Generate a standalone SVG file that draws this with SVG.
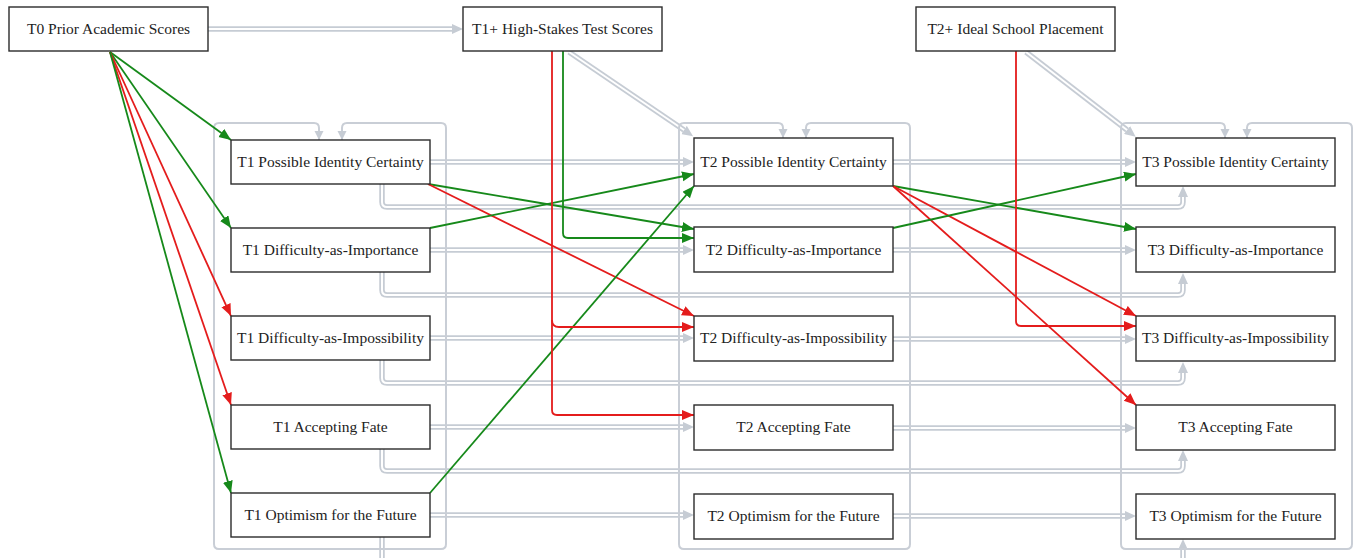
<svg xmlns="http://www.w3.org/2000/svg" width="1356" height="558" viewBox="0 0 1356 558">
<style>
.box{fill:#fff;stroke:#2b2b2b;stroke-width:1.4}
.lbl{font-family:"Liberation Serif","DejaVu Serif",serif;font-size:15.5px;fill:#222;text-anchor:middle}
.dg{fill:none;stroke:#c6ccd4;stroke-width:5.5}
.dw{fill:none;stroke:#fff;stroke-width:2}
.grp{fill:none;stroke:#c9ced6;stroke-width:2}
.g{fill:none;stroke:#16891a;stroke-width:1.8}
.r{fill:none;stroke:#e41c1c;stroke-width:1.8}
</style>
<defs>
<marker id="ag" markerUnits="userSpaceOnUse" markerWidth="12" markerHeight="10" refX="0" refY="5" orient="auto"><path d="M0,0 L11,5 L0,10 z" fill="#c6ccd4"/></marker>
<marker id="as" markerUnits="userSpaceOnUse" markerWidth="10" markerHeight="10" refX="9" refY="4.5" orient="auto"><path d="M0,0 L9,4.5 L0,9 z" fill="#c6ccd4"/></marker>
<marker id="agr" markerUnits="userSpaceOnUse" markerWidth="13" markerHeight="11" refX="12" refY="5" orient="auto"><path d="M0,0 L12,5 L0,10 z" fill="#16891a"/></marker>
<marker id="are" markerUnits="userSpaceOnUse" markerWidth="13" markerHeight="11" refX="12" refY="5" orient="auto"><path d="M0,0 L12,5 L0,10 z" fill="#e41c1c"/></marker>
</defs>

<g id="connectors">
<g id="gray-double">
<path class="dg" marker-end="url(#ag)" d="M208,29 H452"/>
<path class="dg" marker-end="url(#ag)" d="M569,52 L684,130"/>
<path class="dg" marker-end="url(#ag)" d="M1026,52 L1127,130"/>
<path class="dg" marker-end="url(#ag)" d="M430,162 H683"/>
<path class="dg" marker-end="url(#ag)" d="M430,250 H683"/>
<path class="dg" marker-end="url(#ag)" d="M430,338 H683"/>
<path class="dg" marker-end="url(#ag)" d="M430,427 H683"/>
<path class="dg" marker-end="url(#ag)" d="M430,515 H683"/>
<path class="dg" marker-end="url(#ag)" d="M893,162 H1125"/>
<path class="dg" marker-end="url(#ag)" d="M893,250 H1125"/>
<path class="dg" marker-end="url(#ag)" d="M893,339 H1125"/>
<path class="dg" marker-end="url(#ag)" d="M893,428 H1125"/>
<path class="dg" marker-end="url(#ag)" d="M893,516 H1125"/>
<path class="dg" marker-end="url(#ag)" d="M382,184 V202 Q382,207 387,207 H1178 Q1183,207 1183,202 V197"/>
<path class="dg" marker-end="url(#ag)" d="M382,272 V290 Q382,295 387,295 H1178 Q1183,295 1183,290 V284"/>
<path class="dg" marker-end="url(#ag)" d="M382,360 V378 Q382,383 387,383 H1178 Q1183,383 1183,378 V373"/>
<path class="dg" marker-end="url(#ag)" d="M382,449 V466 Q382,471 387,471 H1178 Q1183,471 1183,466 V461"/>
<path class="dg" marker-end="url(#ag)" d="M382,537 V600 H1183 V550"/>
<path class="dw" d="M208,29 H452"/>
<path class="dw" d="M569,52 L684,130"/>
<path class="dw" d="M1026,52 L1127,130"/>
<path class="dw" d="M430,162 H683"/>
<path class="dw" d="M430,250 H683"/>
<path class="dw" d="M430,338 H683"/>
<path class="dw" d="M430,427 H683"/>
<path class="dw" d="M430,515 H683"/>
<path class="dw" d="M893,162 H1125"/>
<path class="dw" d="M893,250 H1125"/>
<path class="dw" d="M893,339 H1125"/>
<path class="dw" d="M893,428 H1125"/>
<path class="dw" d="M893,516 H1125"/>
<path class="dw" d="M382,184 V202 Q382,207 387,207 H1178 Q1183,207 1183,202 V197"/>
<path class="dw" d="M382,272 V290 Q382,295 387,295 H1178 Q1183,295 1183,290 V284"/>
<path class="dw" d="M382,360 V378 Q382,383 387,383 H1178 Q1183,383 1183,378 V373"/>
<path class="dw" d="M382,449 V466 Q382,471 387,471 H1178 Q1183,471 1183,466 V461"/>
<path class="dw" d="M382,537 V600 H1183 V550"/>
</g>
<g id="gray-loops">
<path class="grp" marker-end="url(#as)" d="M330,549 H219 Q214,549 214,544 V128 Q214,123 219,123 H314 Q319,123 319,128 V140"/>
<path class="grp" marker-end="url(#as)" d="M330,549 H441 Q446,549 446,544 V128 Q446,123 441,123 H347 Q342,123 342,128 V140"/>
<path class="grp" marker-end="url(#as)" d="M794,549 H684 Q679,549 679,544 V128 Q679,123 684,123 H778 Q783,123 783,128 V138"/>
<path class="grp" marker-end="url(#as)" d="M794,549 H905 Q910,549 910,544 V128 Q910,123 905,123 H811 Q806,123 806,128 V138"/>
<path class="grp" marker-end="url(#as)" d="M1236,549 H1126 Q1121,549 1121,544 V128 Q1121,123 1126,123 H1220 Q1225,123 1225,128 V138"/>
<path class="grp" marker-end="url(#as)" d="M1236,549 H1347 Q1352,549 1352,544 V128 Q1352,123 1347,123 H1252 Q1247,123 1247,128 V138"/>
</g>
<g id="colored">
<path class="g" marker-end="url(#agr)" d="M110,52 L231,140"/>
<path class="g" marker-end="url(#agr)" d="M110,52 L231,228"/>
<path class="r" marker-end="url(#are)" d="M110,52 L231,316"/>
<path class="r" marker-end="url(#are)" d="M110,52 L231,405"/>
<path class="g" marker-end="url(#agr)" d="M110,52 L231,493"/>
<path class="g" marker-end="url(#agr)" d="M428,184 L694,229"/>
<path class="r" marker-end="url(#are)" d="M428,184 L694,316"/>
<path class="g" marker-end="url(#agr)" d="M430,228 L694,174"/>
<path class="g" marker-end="url(#agr)" d="M430,493 L694,186"/>
<path class="g" marker-end="url(#agr)" d="M893,186 L1136,229"/>
<path class="r" marker-end="url(#are)" d="M893,186 L1136,316"/>
<path class="r" marker-end="url(#are)" d="M893,186 L1136,405"/>
<path class="g" marker-end="url(#agr)" d="M893,228 L1136,174"/>
<path class="g" marker-end="url(#agr)" d="M563,51 V233 Q563,238 568,238 H694"/>
<path class="r" marker-end="url(#are)" d="M552,51 V410 Q552,415 557,415 H694"/>
<path class="r" marker-end="url(#are)" d="M552,320 Q552,327 559,327 H694"/>
<path class="r" marker-end="url(#are)" d="M1016,51 V321 Q1016,326 1021,326 H1136"/>
</g>
</g>

<g id="t0"><rect class="box" x="9" y="7" width="199" height="44"/><text class="lbl" x="108.5" y="34">T0 Prior Academic Scores</text></g>
<g id="t1plus"><rect class="box" x="463" y="7" width="199" height="44"/><text class="lbl" x="562.5" y="34">T1+ High-Stakes Test Scores</text></g>
<g id="t2plus"><rect class="box" x="916" y="7" width="199" height="44"/><text class="lbl" x="1015.5" y="34">T2+ Ideal School Placement</text></g>

<g id="t1pic"><rect class="box" x="231" y="140" width="199" height="44"/><text class="lbl" x="330.5" y="167">T1 Possible Identity Certainty</text></g>
<g id="t1dai"><rect class="box" x="231" y="228" width="199" height="44"/><text class="lbl" x="330.5" y="255">T1 Difficulty-as-Importance</text></g>
<g id="t1dimp"><rect class="box" x="231" y="316" width="199" height="44"/><text class="lbl" x="330.5" y="343">T1 Difficulty-as-Impossibility</text></g>
<g id="t1af"><rect class="box" x="231" y="405" width="199" height="44"/><text class="lbl" x="330.5" y="432">T1 Accepting Fate</text></g>
<g id="t1of"><rect class="box" x="231" y="493" width="199" height="44"/><text class="lbl" x="330.5" y="520">T1 Optimism for the Future</text></g>

<g id="t2pic"><rect class="box" x="694" y="138" width="199" height="48"/><text class="lbl" x="793.5" y="167">T2 Possible Identity Certainty</text></g>
<g id="t2dai"><rect class="box" x="694" y="227" width="199" height="45"/><text class="lbl" x="793.5" y="255">T2 Difficulty-as-Importance</text></g>
<g id="t2dimp"><rect class="box" x="694" y="316" width="199" height="45"/><text class="lbl" x="793.5" y="343">T2 Difficulty-as-Impossibility</text></g>
<g id="t2af"><rect class="box" x="694" y="405" width="199" height="45"/><text class="lbl" x="793.5" y="432">T2 Accepting Fate</text></g>
<g id="t2of"><rect class="box" x="694" y="494" width="199" height="45"/><text class="lbl" x="793.5" y="521">T2 Optimism for the Future</text></g>

<g id="t3pic"><rect class="box" x="1136" y="138" width="199" height="48"/><text class="lbl" x="1235.5" y="167">T3 Possible Identity Certainty</text></g>
<g id="t3dai"><rect class="box" x="1136" y="227" width="199" height="45"/><text class="lbl" x="1235.5" y="255">T3 Difficulty-as-Importance</text></g>
<g id="t3dimp"><rect class="box" x="1136" y="316" width="199" height="45"/><text class="lbl" x="1235.5" y="343">T3 Difficulty-as-Impossibility</text></g>
<g id="t3af"><rect class="box" x="1136" y="405" width="199" height="45"/><text class="lbl" x="1235.5" y="432">T3 Accepting Fate</text></g>
<g id="t3of"><rect class="box" x="1136" y="494" width="199" height="45"/><text class="lbl" x="1235.5" y="521">T3 Optimism for the Future</text></g>
</svg>
